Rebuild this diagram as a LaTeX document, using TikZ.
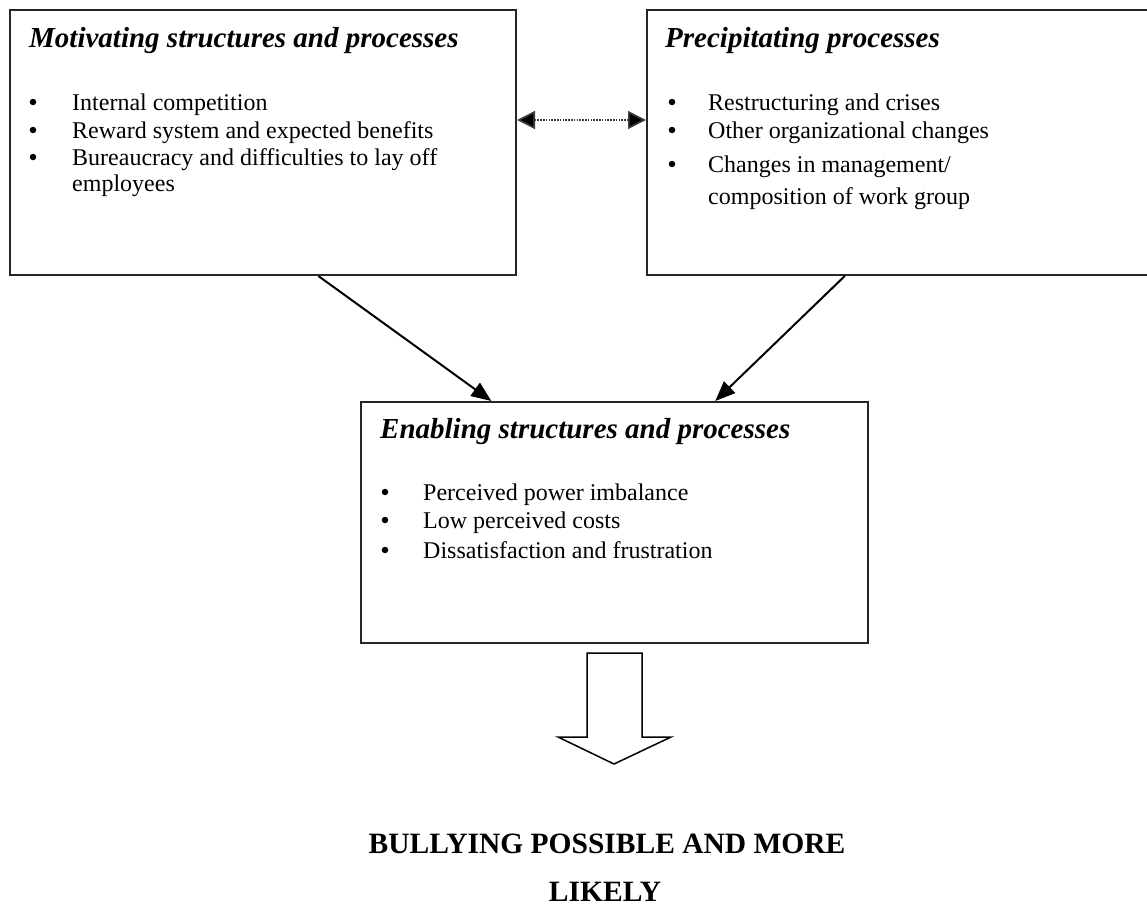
\documentclass[tikz,border=0pt]{standalone}
\usepackage{fontspec}
\setmainfont{Liberation Serif}
\usetikzlibrary{calc,arrows.meta}
\begin{document}
\begin{tikzpicture}[x=1pt,y=-1pt,
  panel/.style={draw=black!85, line width=2pt, inner sep=0pt, rectangle},
  heading/.style={anchor=base west, inner sep=0pt, font=\fontsize{29}{34}\selectfont\bfseries\itshape},
  entry/.style={anchor=base west, inner sep=0pt, font=\fontsize{24}{28}\selectfont},
  dot/.style={circle, fill=black, inner sep=0pt, minimum size=6.5pt},
  conclusion/.style={anchor=base, inner sep=0pt, font=\fontsize{29.5}{34}\selectfont\bfseries},
  link/.style={line width=2pt, -{Triangle[length=20pt, width=16pt]}},
  mutual/.style={draw=black!75, line width=1.6pt, dash pattern=on 1.6pt off 1.2pt,
    {Triangle[length=18pt, width=18pt, fill=black]}-{Triangle[length=18pt, width=18pt, fill=black]}}
]
\useasboundingbox (0,0) rectangle (1147,905);

% the three panels
\node[panel, minimum width=506pt, minimum height=265pt] (mot) at (263,142.5) {};
\node[panel, minimum width=513pt, minimum height=265pt] (prec) at (903.5,142.5) {};
\node[panel, minimum width=507pt, minimum height=241pt] (enab) at (614.5,522.5) {};

% motivating structures and processes
\node[heading] (motT) at (29,47) {Motivating structures and processes};
\node[dot] (motb1) at (33,102) {};
\node[dot] (motb2) at (33,130) {};
\node[dot] (motb3) at (33,157) {};
\node[entry] (mot1) at (72,110) {Internal competition};
\node[entry] (mot2) at (72,138) {Reward system and expected benefits};
\node[entry] (mot3) at (72,165) {Bureaucracy and difficulties to lay off};
\node[entry] (mot4) at (72,191) {employees};

% precipitating processes
\node[heading] (precT) at (665,47) {Precipitating processes};
\node[dot] (precb1) at (672,102) {};
\node[dot] (precb2) at (672,130) {};
\node[dot] (precb3) at (672,164) {};
\node[entry] (prec1) at (708,110) {Restructuring and crises};
\node[entry] (prec2) at (708,138) {Other organizational changes};
\node[entry] (prec3) at (708,172) {Changes in management/};
\node[entry] (prec4) at (708,204) {composition of work group};

% enabling structures and processes
\node[heading] (enabT) at (380,438) {Enabling structures and processes};
\node[dot] (enabb1) at (385,492) {};
\node[dot] (enabb2) at (385,520) {};
\node[dot] (enabb3) at (385,550) {};
\node[entry] (enab1) at (423,500) {Perceived power imbalance};
\node[entry] (enab2) at (423,528) {Low perceived costs};
\node[entry] (enab3) at (423,558) {Dissatisfaction and frustration};

% connectors
\coordinate (level) at (0,120);
\draw[mutual] (mot.east |- level) -- (prec.west |- level);
\draw[link] ($(mot.south west)!0.609!(mot.south east)$) -- ($(enab.north west)!0.258!(enab.north east)$);
\draw[link] ($(prec.south west)!0.386!(prec.south east)$) -- ($(enab.north west)!0.698!(enab.north east)$);

% hollow block arrow
\draw[line width=1.5pt, line join=miter] (587,653) -- (642,653) -- (642,737) -- (671,737)
  -- (614,764) -- (558,737) -- (587,737) -- cycle;

% outcome
\node[conclusion] (out1) at (607,853) {BULLYING POSSIBLE AND MORE};
\node[conclusion] (out2) at (605,901) {LIKELY};
\end{tikzpicture}
\end{document}
